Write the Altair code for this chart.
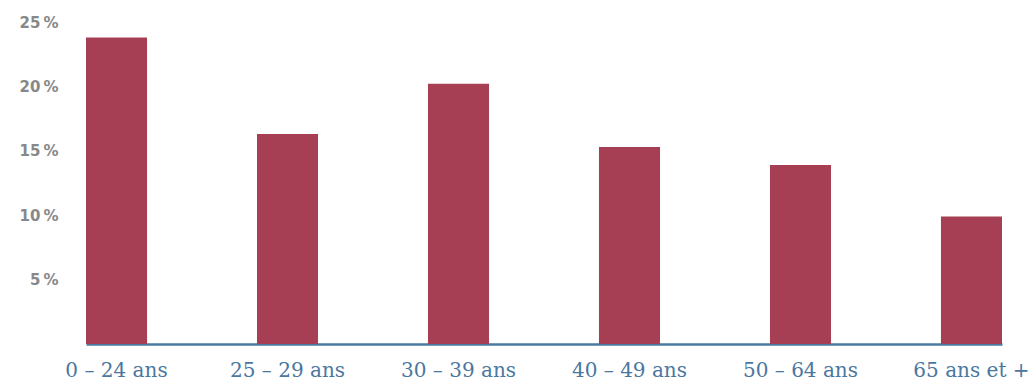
import altair as alt
import pandas as pd

categories = ["0 – 24 ans", "25 – 29 ans", "30 – 39 ans", "40 – 49 ans", "50 – 64 ans", "65 ans et +"]
values = [23.8, 16.3, 20.2, 15.3, 13.9, 9.9]
y_ticks = [5, 10, 15, 20, 25]

df = pd.DataFrame({"cat": categories, "val": values})

chart = alt.Chart(df).mark_bar(color="#A63F53").encode(
    x=alt.X("cat:N", sort=categories, title=None,
            scale=alt.Scale(paddingInner=0.643, paddingOuter=0),
            axis=alt.Axis(labelAngle=0, labelColor="#4A77A0", labelFontSize=20,
                          labelFont="DejaVu Serif", ticks=False, labelOverlap=False,
                          domainColor="#4A7BA3", domainWidth=2.5, labelPadding=16)),
    y=alt.Y("val:Q", title=None,
            scale=alt.Scale(domain=[0, 25], nice=False),
            axis=alt.Axis(values=y_ticks, grid=False, domain=False, ticks=False,
                          labelExpr="datum.value + '\u2009%'",
                          labelColor="#888888", labelFontSize=15, labelFontWeight="bold",
                          labelFont="DejaVu Sans", labelPadding=28)),
).properties(
    width=916, height=322,
    padding={"left": 86, "top": 22, "right": 33, "bottom": 36},
    autosize=alt.AutoSizeParams(type="none"),
).configure_view(stroke=None)

chart.save("out.html", embed_options={"renderer": "svg", "actions": False})
